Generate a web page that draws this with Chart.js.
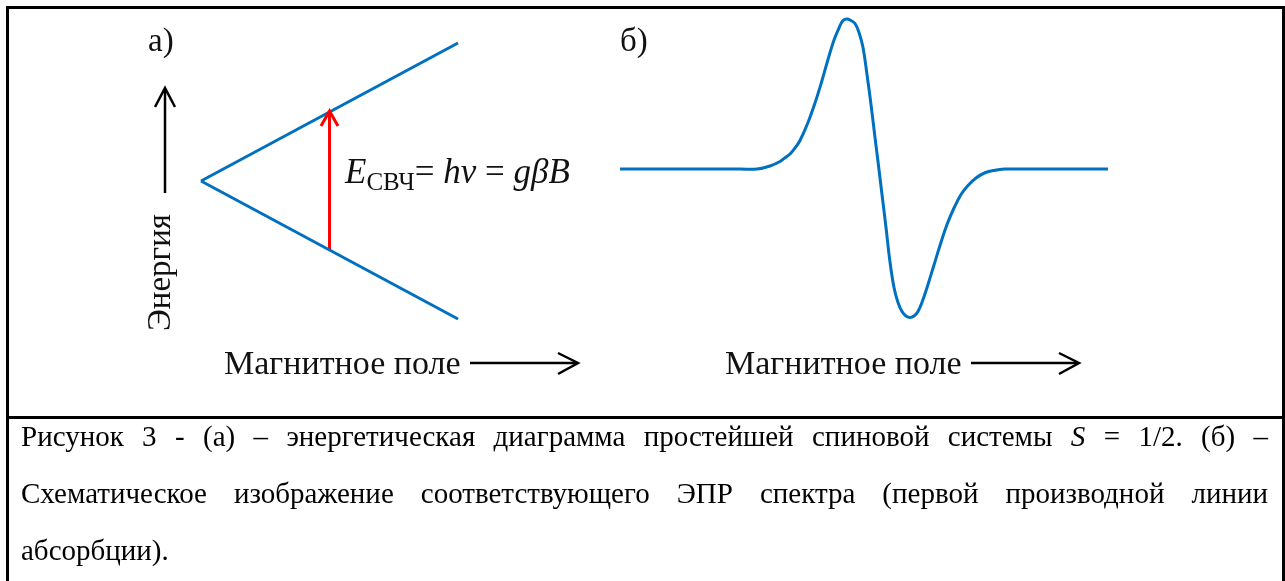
<!DOCTYPE html>
<html lang="ru">
<head>
<meta charset="utf-8">
<title>ЭПР спиновой системы S = 1/2</title>
<script src="https://cdn.jsdelivr.net/npm/chart.js@4.4.1/dist/chart.umd.min.js"></script>
<style>
    html, body { margin: 0; padding: 0; background: #fff; }
    body {
        width: 1285px; height: 581px; position: relative; overflow: hidden;
        font-family: "Liberation Serif", "Times New Roman", serif; color: #111;
    }
    .frame {
        position: absolute; left: 6px; top: 6px; width: 1279px; height: 700px;
        border: 3px solid #000; border-bottom: none; box-sizing: border-box;
    }
    .divider { position: absolute; left: 6px; top: 416px; width: 1279px; height: 3px; background: #000; }
    .lbl { position: absolute; font-size: 33px; line-height: 33px; white-space: nowrap; }
    .field { font-size: 34px; line-height: 34px; }
    .rot { transform: rotate(-90deg); transform-origin: 0 0; }
    #eq { font-size: 35px; line-height: 35px; }
    #eq sub { font-size: 25px; vertical-align: -7px; line-height: 0; }
    canvas { position: absolute; }
    #caption { position: absolute; left: 21px; top: 408px; width: 1247px; font-size: 29px; line-height: 57px; color: #000; }
    #caption div { text-align: justify; text-align-last: justify; }
    #caption div.last { text-align-last: left; }
    svg { position: absolute; left: 0; top: 0; }
</style>
</head>
<body>
<div class="frame"></div>
<div class="divider"></div>

<canvas id="levelsChart" width="297" height="316" style="left:181px; top:23px;"></canvas>
<canvas id="spectrumChart" width="528" height="340" style="left:600px; top:-1px;"></canvas>

<!-- axis arrows -->
<svg width="1285" height="581">
    <g stroke="#000" stroke-width="2.5" fill="none" stroke-linecap="butt" stroke-linejoin="miter">
        <line x1="165" y1="193" x2="165" y2="89"/>
        <polyline points="155,107 165,88 175,107"/>
        <line x1="470" y1="363" x2="577" y2="363"/>
        <polyline points="558,353 578,363 558,374"/>
        <line x1="971" y1="363" x2="1078" y2="363"/>
        <polyline points="1059,353 1079,363 1059,374"/>
    </g>
</svg>

<div class="lbl" style="left:148px; top:24px;">а)</div>
<div class="lbl" style="left:620px; top:24px;">б)</div>
<div class="lbl rot" style="left:143px; top:331px;">Энергия</div>
<div class="lbl" id="eq" style="left:345px; top:154px;"><i>E</i><sub>СВЧ</sub>= <i>hν</i> = <i>gβB</i></div>
<div class="lbl field" style="left:224px; top:346px;">Магнитное поле</div>
<div class="lbl field" style="left:725px; top:346px;">Магнитное поле</div>

<div id="caption">
    <div>Рисунок 3 - (а) – энергетическая диаграмма простейшей спиновой системы <i>S</i> = 1/2. (б) –</div>
    <div>Схематическое изображение соответствующего ЭПР спектра (первой производной линии</div>
    <div class="last">абсорбции).</div>
</div>

<script>
// (а) energy levels of S = 1/2 vs magnetic field (relative units)
const levelField = [0, 1];
const upperLevel = [0, 1];
const lowerLevel = [0, -1];

// microwave transition at the resonance field
const transitionField = [0.5, 0.5];
const transitionEnergy = [-0.5, 0.5];

// (б) first-derivative EPR line
const spectrumField = [0, 60, 100, 120, 137, 150, 160, 165, 170, 175, 180, 188, 195, 202, 208, 214, 219, 223, 227,
    231, 235, 239, 243, 247, 251, 255, 258, 262, 266, 270, 274, 278, 282, 286, 290,
    294, 298, 303, 308, 314, 320, 327, 334, 341, 348, 356, 365, 375, 385, 395, 410, 440, 488];
const spectrumSignal = [0, 0, 0, 0, 0.00, 0.02, 0.05, 0.075, 0.10, 0.14, 0.19, 0.31, 0.44, 0.59, 0.73, 0.86, 0.94, 0.99, 1.00,
    0.99, 0.97, 0.91, 0.81, 0.63, 0.43, 0.21, 0.05, -0.17, -0.39, -0.62, -0.79, -0.89, -0.95, -0.98, -0.99,
    -0.98, -0.95, -0.87, -0.77, -0.64, -0.51, -0.37, -0.26, -0.17, -0.11, -0.06, -0.025, -0.008, 0, 0, 0, 0, 0];

const blue = '#0070C0';
const red = '#FF0000';

function points(xs, ys) {
    return xs.map((x, i) => ({ x: x, y: ys[i] }));
}

function baseOptions(xMin, xMax, yMin, yMax) {
    return {
        responsive: false,
        animation: false,
        devicePixelRatio: 1,
        layout: { padding: 20 },
        plugins: { legend: { display: false }, tooltip: { enabled: false } },
        elements: { point: { radius: 0, hoverRadius: 0 } },
        scales: {
            x: { type: 'linear', display: false, min: xMin, max: xMax },
            y: { type: 'linear', display: false, min: yMin, max: yMax }
        }
    };
}

// arrow head on the top end of the transition line
const arrowHead = {
    id: 'arrowHead',
    afterDatasetsDraw(chart) {
        const meta = chart.getDatasetMeta(2);
        const tip = meta.data[meta.data.length - 1];
        const ctx = chart.ctx;
        ctx.save();
        ctx.strokeStyle = red;
        ctx.lineWidth = 3;
        ctx.lineJoin = 'miter';
        ctx.beginPath();
        ctx.moveTo(tip.x - 8.5, tip.y + 14);
        ctx.lineTo(tip.x, tip.y - 1);
        ctx.lineTo(tip.x + 8.5, tip.y + 14);
        ctx.stroke();
        ctx.restore();
    }
};

new Chart(document.getElementById('levelsChart'), {
    type: 'line',
    data: {
        datasets: [
            { data: points(levelField, upperLevel), borderColor: blue, borderWidth: 3, clip: false },
            { data: points(levelField, lowerLevel), borderColor: blue, borderWidth: 3, clip: false },
            { data: points(transitionField, transitionEnergy), borderColor: red, borderWidth: 3, clip: false }
        ]
    },
    options: baseOptions(0, 1, -1, 1),
    plugins: [arrowHead]
});

new Chart(document.getElementById('spectrumChart'), {
    type: 'line',
    data: {
        datasets: [{
            data: points(spectrumField, spectrumSignal),
            borderColor: blue,
            borderWidth: 3,
            tension: 0.4,
            clip: false
        }]
    },
    options: baseOptions(0, 488, -1, 1)
});
</script>
</body>
</html>
